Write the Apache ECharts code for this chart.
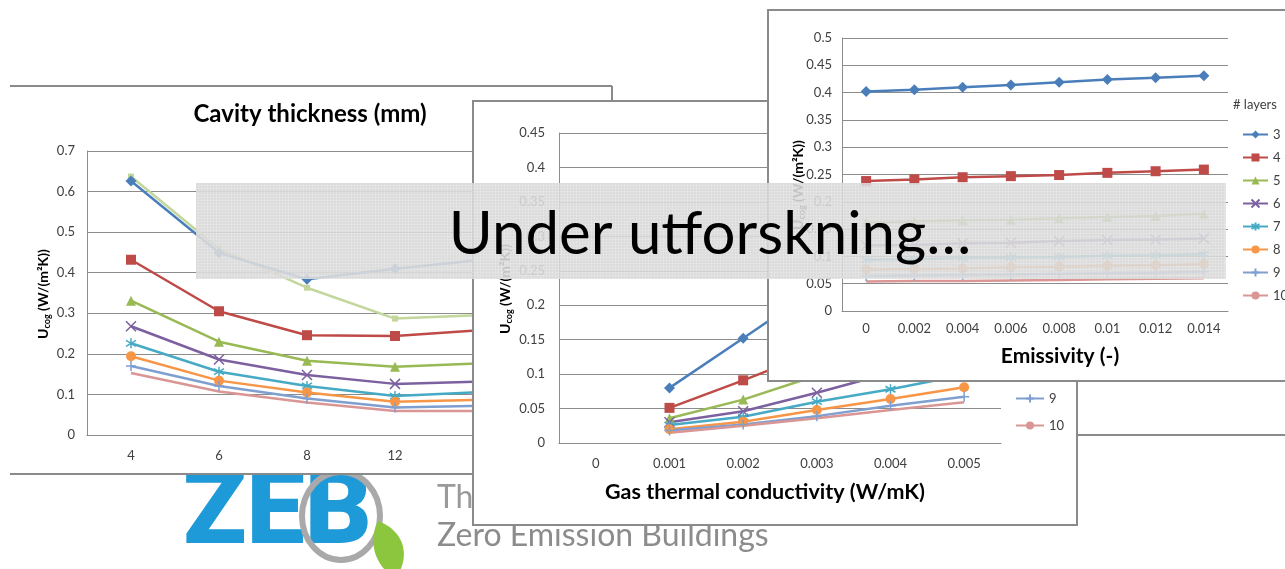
<!DOCTYPE html>
<html>
<head>
<meta charset="utf-8">
<script src="https://cdn.jsdelivr.net/npm/echarts@6/dist/echarts.min.js"></script>
<style>
  html, body { margin: 0; padding: 0; background: #ffffff; }
  #chart { width: 1285px; height: 569px; }
</style>
</head>
<body>
<div id="chart"></div>
<script>
// ---- data ----
const layerNames = ['3', '4', '5', '6', '7', '8', '9', '10'];

// Panel 1: U-value vs cavity thickness (mm)
const cavityMm = ['4', '6', '8', '12', '16'];
const cavity3  = [0.626, 0.449, 0.384, 0.410, 0.432];
const cavity4  = [0.432, 0.305, 0.246, 0.244, 0.259];
const cavity5  = [0.331, 0.230, 0.183, 0.168, 0.177];
const cavity6  = [0.268, 0.186, 0.148, 0.126, 0.132];
const cavity7  = [0.226, 0.156, 0.121, 0.096, 0.106];
const cavity8  = [0.194, 0.134, 0.105, 0.082, 0.087];
const cavity9  = [0.170, 0.121, 0.090, 0.068, 0.072];
const cavity10 = [0.153, 0.107, 0.080, 0.059, 0.059];
const cavityBase = [0.637, 0.459, 0.363, 0.287, 0.296];
const cavityTicks = { min: 0, max: 0.7, interval: 0.1 };

// Panel 2: U-value vs gas thermal conductivity (W/mK)
const gasK   = ['0', '0.001', '0.002', '0.003', '0.004', '0.005'];
const gas3   = [null, 0.080, 0.152, 0.225, 0.298, 0.370];
const gas4   = [null, 0.051, 0.091, 0.133, 0.176, 0.219];
const gas5   = [null, 0.036, 0.063, 0.098, 0.134, 0.170];
const gas6   = [null, 0.030, 0.046, 0.073, 0.102, 0.131];
const gas7   = [null, 0.026, 0.038, 0.060, 0.078, 0.099];
const gas8   = [null, 0.020, 0.031, 0.048, 0.064, 0.081];
const gas9   = [null, 0.018, 0.027, 0.039, 0.054, 0.067];
const gas10  = [null, 0.015, 0.025, 0.036, 0.048, 0.059];
const gasTicks = { min: 0, max: 0.45, interval: 0.05 };

// Panel 3: U-value vs emissivity (-)
const emissivity = ['0', '0.002', '0.004', '0.006', '0.008', '0.01', '0.012', '0.014'];
const emis3  = [0.402, 0.405, 0.410, 0.414, 0.419, 0.424, 0.427, 0.431];
const emis4  = [0.238, 0.241, 0.245, 0.247, 0.249, 0.253, 0.256, 0.259];
const emis5  = [0.162, 0.164, 0.166, 0.167, 0.170, 0.172, 0.174, 0.178];
const emis6  = [0.120, 0.121, 0.124, 0.125, 0.128, 0.130, 0.131, 0.133];
const emis7  = [0.094, 0.095, 0.097, 0.098, 0.099, 0.101, 0.102, 0.104];
const emis8  = [0.076, 0.077, 0.078, 0.080, 0.081, 0.083, 0.084, 0.086];
const emis9  = [0.064, 0.065, 0.066, 0.067, 0.068, 0.069, 0.070, 0.072];
const emis10 = [0.054, 0.055, 0.055, 0.056, 0.057, 0.058, 0.059, 0.060];
const emisTicks = { min: 0, max: 0.5, interval: 0.05 };

// ---- custom shapes ----
// fine square hatching for the caption band
echarts.graphic.registerShape('hatchRect', echarts.graphic.extendShape({
  shape: { x: 0, y: 0, width: 0, height: 0, step: 3 },
  buildPath: function (ctx, s) {
    for (let y = s.y + 1; y < s.y + s.height; y += s.step) { ctx.moveTo(s.x, y); ctx.lineTo(s.x + s.width, y); }
    for (let x = s.x + 1; x < s.x + s.width; x += s.step) { ctx.moveTo(x, s.y); ctx.lineTo(x, s.y + s.height); }
  }
}));
// leaf beside the logo ring
echarts.graphic.registerShape('leaf', echarts.graphic.extendShape({
  shape: { x: 0, y: 0 },
  buildPath: function (ctx, s) {
    ctx.moveTo(s.x, s.y);
    ctx.bezierCurveTo(s.x + 22, s.y + 8, s.x + 32, s.y + 28, s.x + 22, s.y + 50);
    ctx.lineTo(s.x + 8, s.y + 50);
    ctx.bezierCurveTo(s.x - 6, s.y + 36, s.x - 8, s.y + 16, s.x, s.y);
    ctx.closePath();
  }
}));

// ---- styling ----
const FONT = 'Lato, "Open Sans", sans-serif';
const AXIS_GRAY = '#8c8c8c';
const LABEL_COLOR = '#404040';

const layerStyle = {
  '3':  { color: '#4A7EBB', symbol: 'diamond', size: 11 },
  '4':  { color: '#BE4B48', symbol: 'rect', size: 10 },
  '5':  { color: '#98B954', symbol: 'triangle', size: 10 },
  '6':  { color: '#7D60A0', symbol: 'path://M0,0L10,10M10,0L0,10', size: 10, stroke: true },
  '7':  { color: '#46AAC5', symbol: 'path://M5,0L5,10M0,2L10,8M0,8L10,2', size: 10, stroke: true },
  '8':  { color: '#F79646', symbol: 'circle', size: 10 },
  '9':  { color: '#7F9FD0', symbol: 'path://M5,0L5,10M0,5L10,5', size: 10, stroke: true },
  '10': { color: '#D99694', symbol: 'none', size: 0 },
  'base': { color: '#C3D69B', symbol: 'rect', size: 6 }
};

function lineSeries(name, styleKey, data, axisIdx, z) {
  const s = layerStyle[styleKey];
  return {
    name: name, type: 'line', data: data,
    xAxisIndex: axisIdx, yAxisIndex: axisIdx, z: z,
    symbol: s.symbol, symbolSize: s.size, showSymbol: s.symbol !== 'none',
    lineStyle: { color: s.color, width: 2.5 },
    itemStyle: s.stroke
      ? { color: s.color, borderColor: s.color, borderWidth: 1.5 }
      : { color: s.color },
    emphasis: { disabled: true },
    animation: false
  };
}

function catAxis(idx, cats, margin, z) {
  return {
    type: 'category', gridIndex: idx, data: cats, boundaryGap: true, z: z,
    axisLine: { show: true, lineStyle: { color: AXIS_GRAY, width: 1 } },
    axisTick: { show: false },
    axisLabel: { color: LABEL_COLOR, fontFamily: FONT, fontSize: 13, margin: margin, interval: 0 },
    splitLine: { show: false }
  };
}

function valAxis(idx, ticks, margin, z) {
  return {
    type: 'value', gridIndex: idx, min: ticks.min, max: ticks.max, interval: ticks.interval, z: z,
    axisLine: { show: true, lineStyle: { color: AXIS_GRAY, width: 1 } },
    axisTick: { show: false },
    axisLabel: { color: LABEL_COLOR, fontFamily: FONT, fontSize: 13, margin: margin },
    splitLine: { show: true, lineStyle: { color: AXIS_GRAY, width: 1 } }
  };
}

// U_cog axis title with subscript
function ucogTitle(x, y, z) {
  return {
    type: 'text', x: x, y: y, rotation: Math.PI / 2, z: z,
    style: {
      text: '{b|U}{s|cog}{b| (W/(m²K))}',
      align: 'center', verticalAlign: 'middle',
      rich: {
        b: { fontFamily: FONT, fontWeight: 'bold', fontSize: 14, fill: '#000', lineHeight: 18 },
        s: { fontFamily: FONT, fontWeight: 'bold', fontSize: 9, fill: '#000', lineHeight: 10, verticalAlign: 'bottom' }
      }
    }
  };
}

function boldText(text, x, y, size, z) {
  return {
    type: 'text', x: x, y: y, z: z,
    style: { text: text, fontFamily: FONT, fontWeight: 'bold', fontSize: size, fill: '#000',
             align: 'center', verticalAlign: 'middle' }
  };
}

function hLine(x1, x2, y, z) {
  return { type: 'line', z: z, shape: { x1: x1, y1: y, x2: x2, y2: y },
           style: { stroke: '#8a8a8a', lineWidth: 2 } };
}
function vLine(x, y1, y2, z) {
  return { type: 'line', z: z, shape: { x1: x, y1: y1, x2: x, y2: y2 },
           style: { stroke: '#8a8a8a', lineWidth: 2 } };
}

const chart = echarts.init(document.getElementById('chart'), null, { renderer: 'canvas' });

const cavitySets = [cavity3, cavity4, cavity5, cavity6, cavity7, cavity8, cavity9, cavity10];
const gasSets = [gas3, gas4, gas5, gas6, gas7, gas8, gas9, gas10];
const emisSets = [emis3, emis4, emis5, emis6, emis7, emis8, emis9, emis10];

const series = [];
series.push(lineSeries('base', 'base', cavityBase, 0, 3));
layerNames.forEach((n, i) => series.push(lineSeries(n, n, cavitySets[i], 0, 3)));
layerNames.forEach((n, i) => series.push(lineSeries(n, n, gasSets[i], 1, 12)));
layerNames.forEach((n, i) => series.push(lineSeries(n, n, emisSets[i], 2, 22)));

const legendText = { color: LABEL_COLOR, fontFamily: FONT, fontSize: 13 };

chart.setOption({
  animation: false,
  backgroundColor: '#ffffff',
  grid: [
    { left: 87, top: 151, width: 440, height: 284, z: 2 },
    { left: 559, top: 133, width: 442, height: 310, z: 11 },
    { left: 842, top: 38, width: 386, height: 273, z: 21 }
  ],
  xAxis: [
    catAxis(0, cavityMm, 14, 2),
    catAxis(1, gasK, 14, 11),
    catAxis(2, emissivity, 11, 21)
  ],
  yAxis: [
    valAxis(0, cavityTicks, 12, 2),
    valAxis(1, gasTicks, 14, 11),
    valAxis(2, emisTicks, 10, 21)
  ],
  legend: [
    {
      data: layerNames, orient: 'vertical', left: 1015, top: 230, z: 12, padding: 0,
      itemWidth: 28, itemHeight: 10, itemGap: 14, textStyle: legendText,
      selectedMode: false
    },
    {
      data: layerNames, orient: 'vertical', left: 1242, top: 128, z: 22, padding: 0,
      itemWidth: 25, itemHeight: 10, itemGap: 10, textStyle: legendText,
      selectedMode: false
    }
  ],
  graphic: { elements: [
    // ZEB logo
    { type: 'text', x: 183, y: 517, z: 0,
      style: { text: 'ZEB', fontFamily: 'Roboto, sans-serif', fontWeight: 900, fontSize: 104,
               align: 'left', verticalAlign: 'middle', fill: '#1f9ad8' } },
    { type: 'ellipse', z: 0, shape: { cx: 341, cy: 516, rx: 39, ry: 44 },
      style: { fill: 'none', stroke: '#a9a9a9', lineWidth: 6 } },
    { type: 'leaf', z: 0, shape: { x: 378, y: 521 }, style: { fill: '#8cc63f' } },
    { type: 'text', x: 437, y: 498, z: 0,
      style: { text: 'The Research Centre on', fontFamily: FONT, fontSize: 32, fill: '#9a9a9a',
               align: 'left', verticalAlign: 'middle' } },
    { type: 'text', x: 437, y: 536, z: 0,
      style: { text: 'Zero Emission Buildings', fontFamily: FONT, fontSize: 32, fill: '#8c8c8c',
               align: 'left', verticalAlign: 'middle' } },

    // Panel 1
    { type: 'rect', z: 1, shape: { x: 10, y: 86, width: 602, height: 388 }, style: { fill: '#ffffff' } },
    hLine(10, 612, 86, 1), hLine(10, 612, 474, 1), vLine(612, 86, 474, 1),
    boldText('Cavity thickness (mm)', 310, 114, 24, 2),
    ucogTitle(43, 294, 2),

    // a panel edge further back on the right
    hLine(1077, 1285, 435, 5),

    // Panel 2
    { type: 'rect', z: 10, shape: { x: 473, y: 101, width: 604, height: 424 },
      style: { fill: '#ffffff', stroke: '#8a8a8a', lineWidth: 2 } },
    boldText('Gas thermal conductivity (W/mK)', 765, 492, 21.5, 11),
    ucogTitle(505, 289, 11),

    // Panel 3
    { type: 'rect', z: 20, shape: { x: 768, y: 10, width: 530, height: 371 },
      style: { fill: '#ffffff', stroke: '#8a8a8a', lineWidth: 2 } },
    boldText('Emissivity (-)', 1060, 356, 21, 21),
    ucogTitle(798, 185, 21),
    { type: 'text', x: 1233, y: 105, z: 22,
      style: { text: '# layers', fontFamily: FONT, fontSize: 13, fill: LABEL_COLOR,
               align: 'left', verticalAlign: 'middle' } },

    // caption band
    { type: 'rect', z: 30, shape: { x: 196, y: 183, width: 1030, height: 96 },
      style: { fill: 'rgba(228,228,228,0.86)' } },
    { type: 'hatchRect', z: 30, shape: { x: 196, y: 183, width: 1030, height: 96, step: 3 },
      style: { fill: null, stroke: 'rgba(200,200,200,0.4)', lineWidth: 1 } },
    { type: 'text', x: 710, y: 235, z: 31,
      style: { text: 'Under utforskning…', fontFamily: FONT, fontSize: 60, fill: '#000000',
               align: 'center', verticalAlign: 'middle' } }
  ] },
  series: series
});
</script>
</body>
</html>
